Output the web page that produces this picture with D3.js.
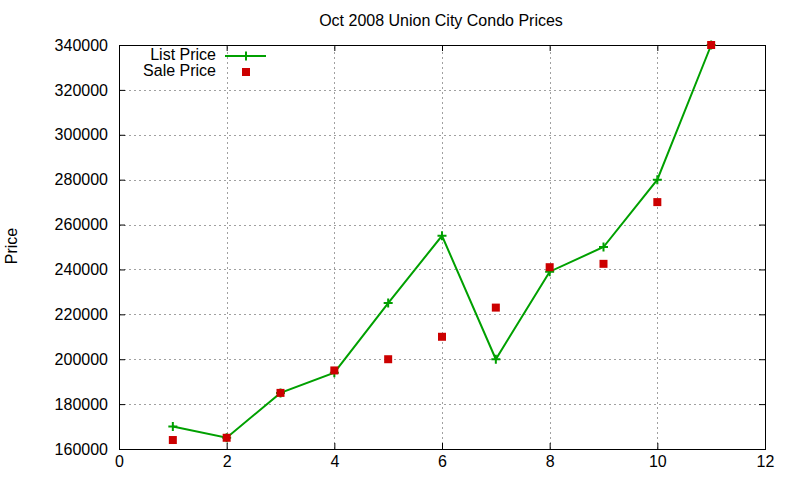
<!DOCTYPE html>
<html>
  <head>
    <style>
      body { margin: 0; background: #fff; }
      text { font-family: "Liberation Sans", Arial, sans-serif; fill: #000; }
    </style>
  </head>
  <body>
    <div id="chart"></div>
    <script src="https://cdnjs.cloudflare.com/ajax/libs/d3/7.8.5/d3.min.js"></script>
    <script>
      const months = [1, 2, 3, 4, 5, 6, 7, 8, 9, 10, 11];
      const listPrice = [170000, 165000, 185000, 194000, 225000, 255000, 200000, 239000, 250000, 280000, 340000];
      const salePrice = [164000, 165000, 185000, 195000, 200000, 210000, 223000, 241000, 242500, 270000, 340000];
      const xTicks = [0, 2, 4, 6, 8, 10, 12];
      const yTicks = [160000, 180000, 200000, 220000, 240000, 260000, 280000, 300000, 320000, 340000];

      const width = 800;
      const height = 480;
      const margin = { top: 45, right: 35, bottom: 31, left: 119 };
      const green = '#00a000';
      const red = '#cc0000';

      const x = d3.scaleLinear().domain([0, 12]).range([margin.left, width - margin.right]);
      const y = d3.scaleLinear().domain([160000, 340000]).range([height - margin.bottom, margin.top]);

      const svg = d3.select('#chart').append('svg')
        .attr('width', width)
        .attr('height', height);

      // grid
      const grid = svg.append('g')
        .attr('stroke', '#a0a0a0')
        .attr('stroke-width', 1)
        .attr('stroke-dasharray', '2,3');
      grid.selectAll('.gx')
        .data(xTicks.slice(1, -1))
        .enter().append('line')
        .attr('x1', d => Math.round(x(d)) + 0.5).attr('x2', d => Math.round(x(d)) + 0.5)
        .attr('y1', y.range()[0]).attr('y2', y.range()[1]);
      grid.selectAll('.gy')
        .data(yTicks.slice(1, -1))
        .enter().append('line')
        .attr('y1', d => Math.round(y(d)) + 0.5).attr('y2', d => Math.round(y(d)) + 0.5)
        .attr('x1', x.range()[0]).attr('x2', x.range()[1]);

      // axes, ticks pointing inward on all sides
      const fmt = d3.format('d');
      const axBottom = svg.append('g')
        .attr('transform', `translate(0, ${height - margin.bottom})`)
        .call(d3.axisBottom(x).tickValues(xTicks).tickSizeInner(-6).tickSizeOuter(0).tickPadding(7).tickFormat(fmt));
      const axLeft = svg.append('g')
        .attr('transform', `translate(${margin.left}, 0)`)
        .call(d3.axisLeft(y).tickValues(yTicks).tickSizeInner(-6).tickSizeOuter(0).tickPadding(11).tickFormat(fmt));
      const axTop = svg.append('g')
        .attr('transform', `translate(0, ${margin.top})`)
        .call(d3.axisTop(x).tickValues(xTicks).tickSizeInner(-6).tickSizeOuter(0).tickFormat(''));
      const axRight = svg.append('g')
        .attr('transform', `translate(${width - margin.right}, 0)`)
        .call(d3.axisRight(y).tickValues(yTicks).tickSizeInner(-6).tickSizeOuter(0).tickFormat(''));

      [axBottom, axLeft, axTop, axRight].forEach(g => {
        g.select('.domain').remove();
        g.selectAll('.tick line').attr('stroke', '#000');
        g.selectAll('text').style('font-size', '16px').attr('fill', '#000');
      });

      svg.append('rect')
        .attr('x', margin.left + 0.5)
        .attr('y', margin.top + 0.5)
        .attr('width', x.range()[1] - x.range()[0])
        .attr('height', y.range()[0] - y.range()[1])
        .attr('fill', 'none')
        .attr('stroke', '#000')
        .attr('stroke-width', 1);

      const listData = months.map((m, i) => ({ m, v: listPrice[i] }));
      const saleData = months.map((m, i) => ({ m, v: salePrice[i] }));

      // list price line with plus markers
      const line = d3.line().x(d => x(d.m)).y(d => y(d.v));
      svg.append('path')
        .datum(listData)
        .attr('d', line)
        .attr('fill', 'none')
        .attr('stroke', green)
        .attr('stroke-width', 2);

      svg.append('g')
        .attr('stroke', green)
        .attr('stroke-width', 2)
        .selectAll('path')
        .data(listData)
        .enter().append('path')
        .attr('d', d => `M${x(d.m) - 4.5},${y(d.v)}h9M${x(d.m)},${y(d.v) - 4.5}v9`);

      // sale price squares
      svg.append('g')
        .selectAll('rect')
        .data(saleData)
        .enter().append('rect')
        .attr('x', d => x(d.m) - 4)
        .attr('y', d => y(d.v) - 4)
        .attr('width', 8)
        .attr('height', 8)
        .attr('fill', red);

      // legend
      const legend = svg.append('g');
      legend.append('text')
        .attr('x', 216).attr('y', 60)
        .attr('text-anchor', 'end')
        .style('font-size', '16px')
        .text('List Price');
      legend.append('line')
        .attr('x1', 225).attr('x2', 266)
        .attr('y1', 56).attr('y2', 56)
        .attr('stroke', green).attr('stroke-width', 2);
      legend.append('path')
        .attr('d', 'M246,51.5v9')
        .attr('stroke', green).attr('stroke-width', 2);
      legend.append('text')
        .attr('x', 216).attr('y', 76)
        .attr('text-anchor', 'end')
        .style('font-size', '16px')
        .text('Sale Price');
      legend.append('rect')
        .attr('x', 242).attr('y', 68)
        .attr('width', 8).attr('height', 8)
        .attr('fill', red);

      // title and axis label
      svg.append('text')
        .attr('x', 441).attr('y', 26)
        .attr('text-anchor', 'middle')
        .style('font-size', '16px')
        .text('Oct 2008 Union City Condo Prices');
      svg.append('text')
        .attr('transform', 'translate(17, 246) rotate(-90)')
        .attr('text-anchor', 'middle')
        .style('font-size', '16px')
        .text('Price');
    </script>
  </body>
</html>
